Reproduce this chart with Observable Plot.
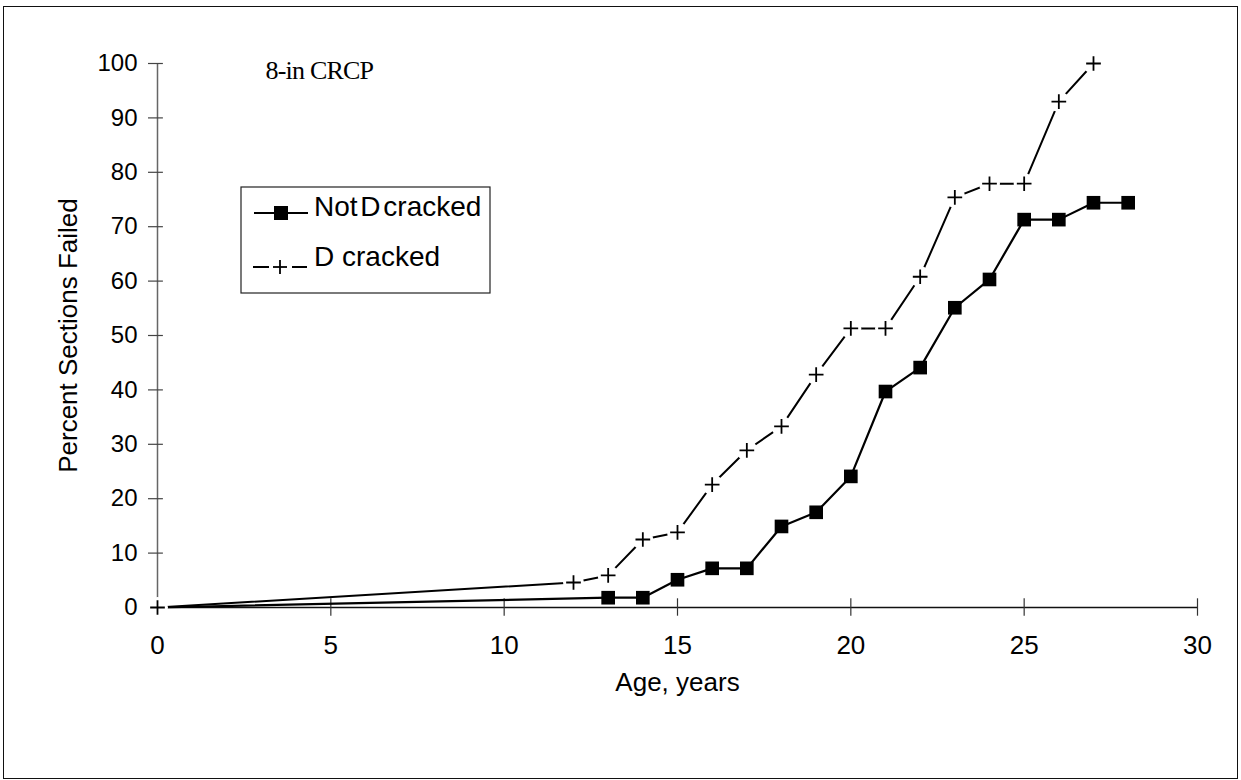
<!DOCTYPE html>
<html><head><meta charset="utf-8">
<script src="https://cdn.jsdelivr.net/npm/d3@7"></script>
<script src="https://cdn.jsdelivr.net/npm/@observablehq/plot@0.6"></script>
<style>
html,body{margin:0;padding:0;background:#fff;}
#wrap{position:relative;width:1241px;height:780px;overflow:hidden;background:#fff;}
#chart{position:absolute;left:0;top:0;}
#frame{position:absolute;left:3px;top:6px;width:1235px;height:773px;border:1.5px solid #111;box-sizing:border-box;pointer-events:none;}
</style></head><body>
<div id="wrap"><div id="chart"></div><div id="frame"></div></div>
<script>
// ---- data ----
const ageNotD = [0, 13, 14, 15, 16, 17, 18, 19, 20, 21, 22, 23, 24, 25, 26, 27, 28];
const pctNotD = [0, 1.8, 1.8, 5.1, 7.2, 7.2, 14.9, 17.5, 24.1, 39.7, 44.1, 55.1, 60.3, 71.3, 71.3, 74.4, 74.4];
const ageD = [0, 12, 13, 14, 15, 16, 17, 18, 19, 20, 21, 22, 23, 24, 25, 26, 27];
const pctD = [0, 4.6, 5.9, 12.5, 13.8, 22.6, 28.9, 33.3, 42.8, 51.3, 51.3, 60.8, 75.4, 77.9, 77.9, 93.0, 100];
const xTicks = [0, 5, 10, 15, 20, 25, 30];
const yTicks = [0, 10, 20, 30, 40, 50, 60, 70, 80, 90, 100];
const title = "8-in CRCP";
const xLabel = "Age, years";
const yLabel = "Percent Sections Failed";
const seriesNames = ["Not D cracked", "D cracked"];

// ---- tables ----
const notD = ageNotD.map((a, i) => ({age: a, pct: pctNotD[i]}));
const dCr = ageD.map((a, i) => ({age: a, pct: pctD[i]}));

const plot = Plot.plot({
  width: 1241, height: 780,
  marginLeft: 157, marginRight: 44, marginTop: 63, marginBottom: 173,
  x: {domain: [0, 30]},
  y: {domain: [0, 100]},
  style: {fontFamily: "'Liberation Sans', Arial, sans-serif", fontSize: "25px", background: "transparent", color: "#000", overflow: "visible"},
  marks: [
    Plot.ruleY([0], {x1: 0, x2: 30, stroke: "#111", strokeWidth: 1.5}),
    Plot.ruleX([0], {y1: 0, y2: 100, stroke: "#666", strokeWidth: 1.5}),
    Plot.ruleX(xTicks, {y1: -1.6, y2: 1.6, stroke: "#333", strokeWidth: 1.2}),
    Plot.ruleY(yTicks, {x1: -0.26, x2: 0.17, stroke: "#444", strokeWidth: 1.2}),
    Plot.axisX(xTicks, {tickSize: 0, tickPadding: 28, fontSize: 26, label: null}),
    Plot.axisY(yTicks, {tickSize: 0, tickPadding: 20, fontSize: 24, label: null}),
    Plot.text([yLabel], {frameAnchor: "left", dx: -89, rotate: -90, textAnchor: "middle", fontSize: 26}),
    Plot.text([xLabel], {frameAnchor: "bottom", dy: 83, fontSize: 26}),
    Plot.text([title], {frameAnchor: "top-left", dx: 108, dy: -3, textAnchor: "start", fontSize: 26, fontFamily: "'Liberation Serif', 'Times New Roman', serif"}),
    // lines
    Plot.line(dCr, {x: "age", y: "pct", stroke: "#000", strokeWidth: 2}),
    Plot.line(notD, {x: "age", y: "pct", stroke: "#000", strokeWidth: 2.2}),
    // white halo round each D point, which breaks the D line near its markers
    Plot.dot(dCr, {x: "age", y: "pct", r: 10.5, fill: "#fff", stroke: null}),
    Plot.dot(notD.slice(1), {x: "age", y: "pct", symbol: "square", r: 7.7, fill: "#000", stroke: null}),
    Plot.dot(dCr, {x: "age", y: "pct", symbol: "plus", r: 4.8, stroke: "#000", strokeWidth: 1.8})
  ]
});

const svg = d3.select(plot);
svg.selectAll("text").filter(function(){ return this.textContent === title; }).attr("letter-spacing", "-0.8");
// legend
const lg = svg.append("g").attr("font-family", "'Liberation Sans', Arial, sans-serif").attr("font-size", 28).attr("text-anchor", "start");
lg.append("rect").attr("x", 241).attr("y", 187).attr("width", 249).attr("height", 106)
  .attr("fill", "white").attr("stroke", "#222").attr("stroke-width", 1.2);
lg.append("line").attr("x1", 254).attr("x2", 308).attr("y1", 213).attr("y2", 213).attr("stroke", "#000").attr("stroke-width", 2.2);
lg.append("rect").attr("x", 274).attr("y", 206).attr("width", 14).attr("height", 14).attr("fill", "#000");
lg.append("text").attr("x", 314).attr("y", 216).attr("word-spacing", "-5").text(seriesNames[0]);
lg.append("line").attr("x1", 253).attr("x2", 269).attr("y1", 267).attr("y2", 267).attr("stroke", "#000").attr("stroke-width", 2);
lg.append("line").attr("x1", 292).attr("x2", 307).attr("y1", 267).attr("y2", 267).attr("stroke", "#000").attr("stroke-width", 2);
lg.append("line").attr("x1", 273).attr("x2", 287).attr("y1", 267).attr("y2", 267).attr("stroke", "#000").attr("stroke-width", 1.8);
lg.append("line").attr("x1", 280).attr("x2", 280).attr("y1", 260).attr("y2", 274).attr("stroke", "#000").attr("stroke-width", 1.8);
lg.append("text").attr("x", 314).attr("y", 266).text(seriesNames[1]);

document.getElementById("chart").appendChild(plot);
</script>
</body></html>
